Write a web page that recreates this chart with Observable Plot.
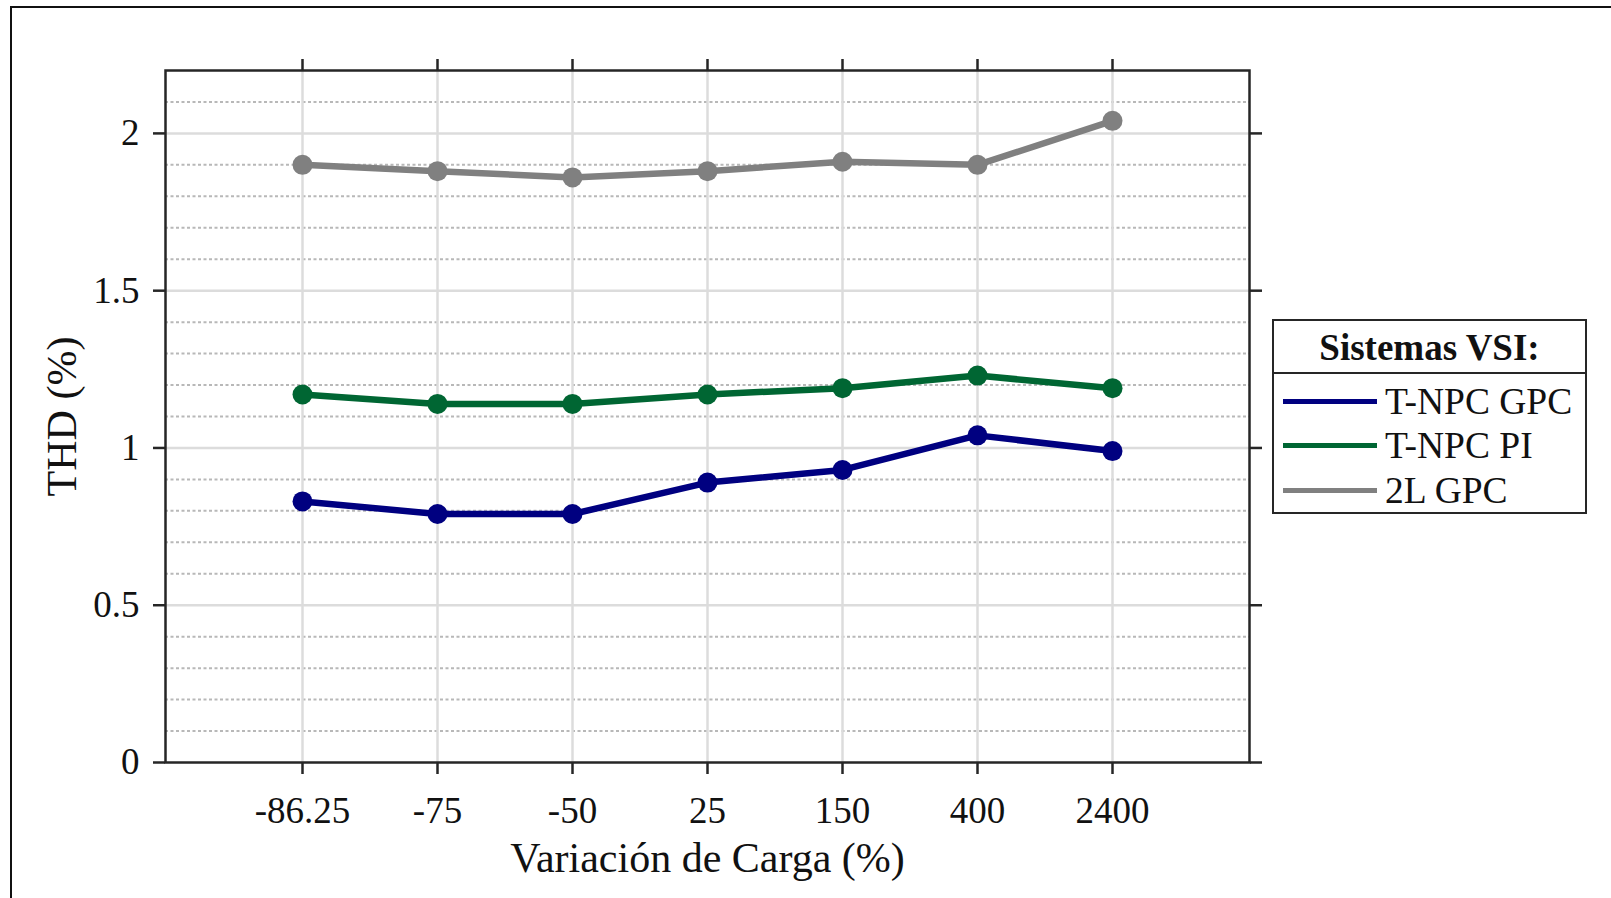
<!DOCTYPE html>
<html>
<head>
<meta charset="utf-8">
<script src="https://cdn.jsdelivr.net/npm/d3@7"></script>
<script src="https://cdn.jsdelivr.net/npm/@observablehq/plot@0.6"></script>
<style>
  html, body { margin: 0; padding: 0; background: #fff; }
  #wrap { position: relative; width: 1611px; height: 898px; overflow: hidden; font-family: "Liberation Serif", "Times New Roman", serif; }
  #border { position: absolute; left: 10px; top: 6px; width: 1620px; height: 910px; border-left: 2px solid #111; border-top: 2px solid #111; box-sizing: border-box; pointer-events: none; }
  #legend { position: absolute; left: 1272px; top: 319px; width: 315px; height: 195px; border: 2.5px solid #262626; box-sizing: border-box; background: #fff; }
  #legend .title { height: 51px; border-bottom: 2.5px solid #262626; font-weight: bold; font-size: 37px; text-align: center; line-height: 54px; color: #111; }
  #legend .row { position: absolute; left: 9px; height: 40px; display: flex; align-items: center; font-size: 37.5px; color: #111; white-space: nowrap; }
  #legend .swatch { width: 94px; height: 5px; margin-right: 8px; }
</style>
</head>
<body>
<div id="wrap">
  <div id="chart"></div>
  <div id="border"></div>
  <div id="legend"></div>
</div>
<script>
// Load variation categories (%) and THD (%) for each VSI system
const cargas = ["-86.25", "-75", "-50", "25", "150", "400", "2400"];
const tnpcGpc = [0.83, 0.79, 0.79, 0.89, 0.93, 1.04, 0.99];
const tnpcPi = [1.17, 1.14, 1.14, 1.17, 1.19, 1.23, 1.19];
const l2Gpc = [1.90, 1.88, 1.86, 1.88, 1.91, 1.90, 2.04];
const seriesNames = ["T-NPC GPC", "T-NPC PI", "2L GPC"];
const seriesColors = ["#000080", "#006633", "#808080"];
const yTicks = [0, 0.5, 1, 1.5, 2];
const yMinor = [0.1, 0.2, 0.3, 0.4, 0.6, 0.7, 0.8, 0.9, 1.1, 1.2, 1.3, 1.4, 1.6, 1.7, 1.8, 1.9, 2.1];

const seriesValues = [tnpcGpc, tnpcPi, l2Gpc];
const data = seriesNames.flatMap((s, i) =>
  cargas.map((c, j) => ({ serie: s, carga: c, thd: seriesValues[i][j] }))
);

const font = "Liberation Serif, Times New Roman, serif";
const axisColor = "#262626";

const chart = Plot.plot({
  width: 1611,
  height: 898,
  marginLeft: 165,
  marginRight: 362,
  marginTop: 70,
  marginBottom: 136,
  style: { fontFamily: font, background: "transparent", color: "#111", overflow: "visible" },
  x: { type: "point", domain: cargas, padding: 1, axis: null },
  y: { domain: [0, 2.2], axis: null },
  color: { domain: seriesNames, range: seriesColors },
  marks: [
    // minor dotted grid
    Plot.ruleY(yMinor, { stroke: "#b8b8b8", strokeWidth: 2, strokeDasharray: "3,2.5" }),
    // major grid
    Plot.ruleY(yTicks.slice(1), { stroke: "#dcdcdc", strokeWidth: 2.5 }),
    Plot.ruleX(cargas, { stroke: "#dcdcdc", strokeWidth: 2.5 }),
    // series
    Plot.line(data, { x: "carga", y: "thd", z: "serie", stroke: "serie", strokeWidth: 6.5 }),
    Plot.dot(data, { x: "carga", y: "thd", fill: "serie", r: 10 }),
    // axes: labelled bottom/left, tick-only top/right
    Plot.axisX({ anchor: "bottom", tickSize: 12, tickPadding: 22, fontSize: 37, stroke: axisColor, strokeWidth: 2.5, label: null, fill: "#111" }),
    Plot.axisX({ anchor: "top", tickSize: 12, tickFormat: () => "", stroke: axisColor, strokeWidth: 2.5, label: null }),
    Plot.axisY({ anchor: "left", ticks: yTicks, tickSize: 12, tickPadding: 14, fontSize: 37, tickFormat: d => String(d), stroke: axisColor, strokeWidth: 2.5, label: null, fill: "#111" }),
    Plot.axisY({ anchor: "right", ticks: yTicks, tickSize: 12, tickFormat: () => "", stroke: axisColor, strokeWidth: 2.5, label: null }),
    Plot.frame({ stroke: axisColor, strokeWidth: 2.5 }),
    // axis titles
    Plot.text(["Variación de Carga (%)"], { frameAnchor: "bottom", dy: 96, fontSize: 42, lineAnchor: "middle", textAnchor: "middle", fill: "#111" }),
    Plot.text(["THD (%)"], { frameAnchor: "left", dx: -103, rotate: -90, fontSize: 42, lineAnchor: "middle", textAnchor: "middle", fill: "#111" })
  ]
});
document.getElementById("chart").appendChild(chart);

// legend box
const legend = document.getElementById("legend");
const title = document.createElement("div");
title.className = "title";
title.textContent = "Sistemas VSI:";
legend.appendChild(title);
seriesNames.forEach((name, i) => {
  const row = document.createElement("div");
  row.className = "row";
  row.style.top = (60 + i * 44.5) + "px";
  const sw = document.createElement("span");
  sw.className = "swatch";
  sw.style.background = seriesColors[i];
  const label = document.createElement("span");
  label.textContent = name;
  row.appendChild(sw);
  row.appendChild(label);
  legend.appendChild(row);
});
</script>
</body>
</html>
